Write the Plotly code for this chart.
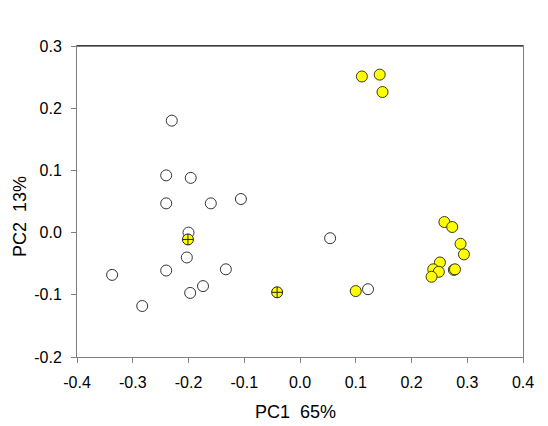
import plotly.graph_objects as go

# open (white) samples
open_pc1 = [-0.230, -0.240, -0.196, -0.240, -0.160, -0.106, -0.200, -0.203,
            -0.240, -0.133, -0.337, -0.174, -0.197, -0.283, 0.054, 0.122]
open_pc2 = [0.180, 0.092, 0.088, 0.047, 0.047, 0.054, 0.000, -0.040,
            -0.061, -0.059, -0.068, -0.086, -0.097, -0.118, -0.009, -0.091]

# yellow samples
yellow_pc1 = [0.111, 0.143, 0.148, 0.100, 0.259, 0.273, 0.288, 0.294,
              0.251, 0.239, 0.249, 0.236, 0.276, 0.278]
yellow_pc2 = [0.251, 0.254, 0.226, -0.094, 0.017, 0.009, -0.018, -0.035,
              -0.048, -0.059, -0.063, -0.071, -0.060, -0.059]

# yellow samples with cross
cross_pc1 = [-0.201, -0.041]
cross_pc2 = [-0.011, -0.096]

x_ticks = [-0.4, -0.3, -0.2, -0.1, 0.0, 0.1, 0.2, 0.3, 0.4]
y_ticks = [-0.2, -0.1, 0.0, 0.1, 0.2, 0.3]
x_labels = ["-0.4", "-0.3", "-0.2", "-0.1", "0.0", "0.1", "0.2", "0.3", "0.4"]
y_labels = ["-0.2", "-0.1", "0.0", "0.1", "0.2", "0.3"]

fig = go.Figure()

fig.add_trace(go.Scatter(
    x=open_pc1, y=open_pc2, mode="markers",
    marker=dict(symbol="circle", size=11, color="white",
                line=dict(color="#333333", width=1)),
))
fig.add_trace(go.Scatter(
    x=yellow_pc1, y=yellow_pc2, mode="markers",
    marker=dict(symbol="circle", size=11, color="#ffff00",
                line=dict(color="#3a3a1a", width=1)),
))
fig.add_trace(go.Scatter(
    x=cross_pc1, y=cross_pc2, mode="markers",
    marker=dict(symbol="circle-cross", size=11, color="#ffff00",
                line=dict(color="#222222", width=1)),
))

font_family = "Liberation Sans, Arial, sans-serif"

# page has an 8px body margin, so the figure is a bit smaller than the window
fig.update_layout(
    width=540, height=418,
    showlegend=False,
    plot_bgcolor="white",
    paper_bgcolor="white",
    margin=dict(l=69, r=25, t=38, b=69),
    font=dict(family=font_family, size=16, color="black"),
    xaxis=dict(
        range=[-0.4, 0.4], tickvals=x_ticks, ticktext=x_labels,
        showgrid=False, zeroline=False,
        showline=True, linecolor="#808080", linewidth=1, mirror=True,
        ticks="outside", ticklen=5, tickcolor="#808080",
        ticklabelstandoff=6,
    ),
    yaxis=dict(
        range=[-0.2, 0.3], tickvals=y_ticks, ticktext=y_labels,
        showgrid=False, zeroline=False,
        showline=True, linecolor="#808080", linewidth=1, mirror=True,
        ticks="outside", ticklen=5, tickcolor="#808080",
        ticklabelstandoff=6,
    ),
)

# axis titles
fig.add_annotation(text="PC1\u00a0\u00a065%", xref="paper", yref="paper",
                   x=0.49, y=-0.178, xanchor="center", yanchor="middle",
                   showarrow=False, font=dict(size=18))
fig.add_annotation(text="PC2\u00a0\u00a013%", xref="paper", yref="paper",
                   x=-0.128, y=0.453, xanchor="center", yanchor="middle",
                   textangle=-90, showarrow=False, font=dict(size=18))

# black top border as in the original
fig.add_shape(type="line", xref="paper", yref="paper",
              x0=0, x1=1, y0=1, y1=1, line=dict(color="black", width=1))

fig.write_html("out.html")
